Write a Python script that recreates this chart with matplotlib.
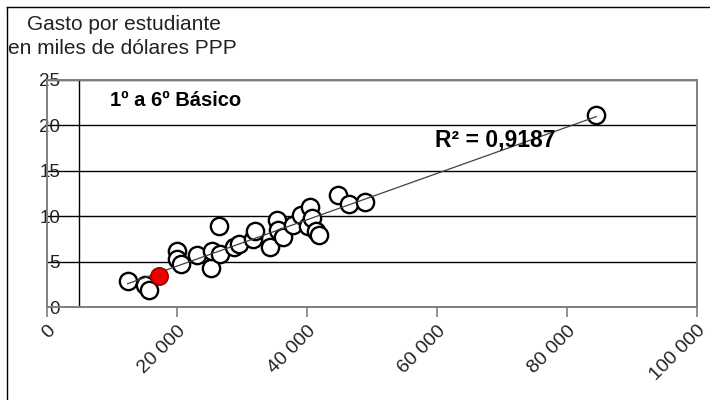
import numpy as np
import matplotlib
matplotlib.use('Agg')
import matplotlib.pyplot as plt
from matplotlib.lines import Line2D

# gasto por estudiante (miles USD PPP) vs PIB per capita
pib = [12400, 15080, 15700, 20050, 19950, 20560, 23030, 25180, 25430, 26600,
       26510, 28770, 29590, 31640, 32000, 34300, 35340, 35490, 36260, 37800,
       39030, 40460, 40200, 40720, 41380, 41900, 44720, 46510, 48920, 84500]
gasto = [2.86, 2.42, 1.87, 6.17, 5.25, 4.7, 5.73, 4.26, 6.17, 5.8,
         8.92, 6.64, 6.9, 7.45, 8.37, 6.64, 9.58, 8.48, 7.67, 9.03,
         10.13, 11.05, 8.92, 9.77, 8.37, 7.93, 12.33, 11.34, 11.6, 21.2]
chile_pib = [17280]
chile_gasto = [3.41]

x_ticks = [0, 20000, 40000, 60000, 80000, 100000]
x_labels = ['0', '20 000', '40 000', '60 000', '80 000', '100 000']
y_ticks = [0, 5, 10, 15, 20, 25]

plt.rcParams['font.family'] = ['Liberation Sans', 'DejaVu Sans']
axis_gray = '#7f7f7f'
txt = '#222222'

fig = plt.figure(figsize=(7.1, 4.0), dpi=100)
ax = fig.add_axes([47/710, 93/400, 650/710, 227/400])
ax.set_xlim(0, 100000)
ax.set_ylim(0, 25)

for s in ['left', 'bottom', 'top', 'right']:
    ax.spines[s].set_color(axis_gray)
    ax.spines[s].set_linewidth(1.4)

ax.set_yticks(y_ticks)
ax.set_yticklabels([str(v) for v in y_ticks])
ax.grid(axis='y', color='black', linewidth=1.0)
ax.tick_params(axis='y', length=0, pad=-9.5, labelsize=13.5, labelcolor=txt)

ax.set_xticks(x_ticks)
ax.set_xticklabels(x_labels, rotation=45, ha='right', va='top', rotation_mode='anchor')
ax.tick_params(axis='x', direction='out', length=7, width=1.2, color=axis_gray,
               labelsize=14, labelcolor=txt, pad=4)

# borde del area de trazado
ax.axvline(4900, color='black', linewidth=1.0)

all_x = np.array(pib + chile_pib)
all_y = np.array(gasto + chile_gasto)
m, b = np.polyfit(all_x, all_y, 1)
xs = np.array([all_x.min(), all_x.max()])
ax.plot(xs, m*xs + b, color='#404040', linewidth=0.9, zorder=4)

ax.scatter(pib, gasto, s=155, facecolors='white', edgecolors='black', linewidths=1.7, zorder=3)
ax.scatter(chile_pib, chile_gasto, s=155, facecolors='#ee0000', edgecolors='#990000', linewidths=1.2, zorder=5)

fig.text(27/710, 1-25/400, "Gasto por estudiante", fontsize=15, color=txt, va='center')
fig.text(8/710, 1-48/400, "en miles de dólares PPP", fontsize=15, color=txt, va='center')
fig.text(110/710, 1-100/400, "1º a 6º Básico", fontsize=14.5, fontweight='bold', va='center')
fig.text(435/710, 1-140/400, "R² = 0,9187", fontsize=16.5, fontweight='bold', va='center')

# marco exterior
fig.add_artist(Line2D([7/710, 7/710], [0, 393/400], transform=fig.transFigure, color='black', linewidth=1.0))
fig.add_artist(Line2D([7/710, 1], [393/400, 393/400], transform=fig.transFigure, color='black', linewidth=1.0))

fig.savefig('out.png', dpi=100)
